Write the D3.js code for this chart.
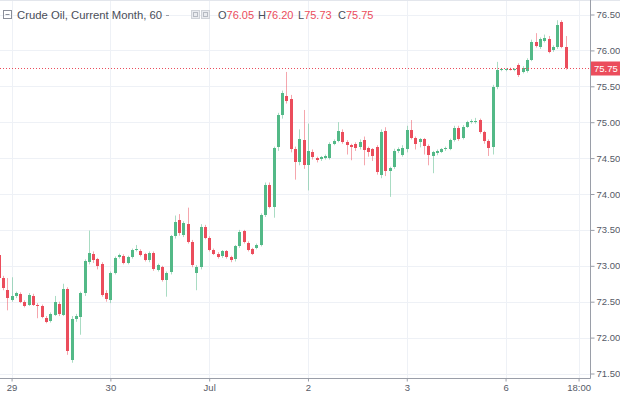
<!DOCTYPE html>
<html>
<head>
<meta charset="utf-8">
<script src="https://cdn.jsdelivr.net/npm/d3@7"></script>
<style>
  html, body { margin: 0; padding: 0; background: #fff; }
  svg { display: block; font-family: "Liberation Sans", Arial, sans-serif; }
</style>
</head>
<body>
<div id="chart"></div>
<script>
// hourly candles, crude oil current month
const opens = [
  73.15, 72.83, 72.66, 72.52, 72.58, 72.61, 72.49, 72.46, 72.58, 72.46,
  72.44, 72.27, 72.23, 72.32, 72.47, 72.32, 72.68, 71.69, 72.26, 72.29,
  72.62, 73.05, 73.17, 73.09, 73.02, 72.62, 72.52, 72.90, 73.12, 73.14,
  73.04, 73.12, 73.22, 73.21, 73.16, 73.08, 73.18, 72.94, 72.98, 72.80,
  72.91, 73.41, 73.64, 73.43, 73.58, 73.33, 72.90, 72.98, 73.54, 73.39,
  73.22, 73.17, 73.13, 73.20, 73.12, 73.09, 73.27, 73.48, 73.32, 73.23,
  73.25, 73.29, 73.71, 74.13, 73.82, 74.65, 75.10, 75.36, 75.33, 74.62,
  74.44, 74.75, 74.40, 74.58, 74.50, 74.49, 74.50, 74.50, 74.70, 74.74,
  74.87, 74.73, 74.68, 74.70, 74.65, 74.75, 74.64, 74.62, 74.65, 74.27,
  74.88, 74.32, 74.38, 74.60, 74.55, 74.62, 74.89, 74.78, 74.72, 74.76,
  74.67, 74.53, 74.57, 74.59, 74.62, 74.63, 74.75, 74.92, 74.78, 74.94,
  75.00, 75.00, 75.03, 74.86, 74.74, 74.65, 75.49, 75.73, 75.73, 75.74,
  75.73, 75.80, 75.70, 75.71, 75.87, 76.12, 76.05, 76.13, 76.16, 76.00,
  76.05, 76.39, 76.05
];
const highs = [
  73.20, 72.86, 72.83, 72.84, 72.64, 72.63, 72.52, 72.62, 72.61, 72.48,
  72.46, 72.30, 72.35, 72.58, 72.50, 72.75, 72.70, 72.30, 72.33, 72.64,
  73.09, 73.49, 73.20, 73.11, 73.05, 72.66, 72.92, 73.13, 73.17, 73.16,
  73.14, 73.24, 73.29, 73.23, 73.18, 73.20, 73.20, 73.03, 73.00, 72.92,
  73.43, 73.70, 73.72, 73.62, 73.81, 73.36, 73.01, 73.58, 73.57, 73.41,
  73.24, 73.19, 73.22, 73.22, 73.14, 73.29, 73.50, 73.50, 73.34, 73.25,
  73.31, 73.73, 74.16, 74.16, 74.66, 75.13, 75.44, 75.70, 75.38, 74.66,
  74.90, 75.17, 74.98, 74.62, 74.52, 74.53, 74.55, 74.72, 74.76, 75.00,
  74.90, 74.75, 74.70, 74.72, 74.76, 74.80, 74.66, 74.64, 74.68, 74.90,
  74.93, 74.38, 74.63, 74.65, 74.68, 74.95, 75.03, 74.80, 74.78, 74.78,
  74.69, 74.60, 74.62, 74.64, 74.66, 74.77, 74.95, 74.95, 74.96, 75.02,
  75.04, 75.06, 75.05, 74.88, 74.76, 75.52, 75.84, 75.75, 75.75, 75.76,
  75.75, 75.82, 75.78, 75.89, 76.15, 76.24, 76.18, 76.22, 76.20, 76.07,
  76.42, 76.42, 76.20
];
const lows = [
  72.80, 72.66, 72.38, 72.50, 72.55, 72.48, 72.42, 72.44, 72.44, 72.27,
  72.27, 72.20, 72.21, 72.30, 72.30, 72.30, 71.76, 71.65, 72.22, 72.04,
  72.58, 73.02, 73.04, 72.95, 72.57, 72.50, 72.48, 72.88, 73.10, 73.02,
  73.02, 73.10, 73.20, 73.13, 73.06, 73.05, 72.93, 72.92, 72.78, 72.57,
  72.88, 73.38, 73.42, 73.40, 73.31, 72.98, 72.66, 72.95, 73.37, 73.20,
  73.15, 73.10, 73.11, 73.10, 73.05, 73.06, 73.25, 73.31, 73.20, 73.15,
  73.23, 73.27, 73.68, 73.80, 73.67, 74.60, 75.05, 75.26, 74.58, 74.20,
  74.40, 74.35, 74.05, 74.48, 74.44, 74.46, 74.48, 74.48, 74.68, 74.72,
  74.70, 74.55, 74.47, 74.60, 74.62, 74.40, 74.52, 74.46, 74.27, 74.22,
  74.25, 73.96, 74.35, 74.57, 74.52, 74.58, 74.76, 74.62, 74.65, 74.55,
  74.40, 74.29, 74.54, 74.57, 74.60, 74.61, 74.73, 74.74, 74.76, 74.92,
  74.98, 74.98, 74.84, 74.70, 74.53, 74.55, 75.46, 75.71, 75.71, 75.72,
  75.71, 75.63, 75.68, 75.69, 75.85, 76.04, 76.02, 76.11, 75.96, 75.98,
  76.02, 76.03, 75.73
];
const closes = [
  72.83, 72.69, 72.55, 72.58, 72.62, 72.50, 72.44, 72.60, 72.46, 72.44,
  72.29, 72.22, 72.33, 72.50, 72.33, 72.68, 71.81, 72.26, 72.30, 72.62,
  73.07, 73.18, 73.08, 73.00, 72.59, 72.54, 72.90, 73.11, 73.15, 73.04,
  73.12, 73.22, 73.23, 73.15, 73.08, 73.18, 72.95, 73.01, 72.80, 72.90,
  73.41, 73.61, 73.45, 73.60, 73.33, 73.01, 72.99, 73.54, 73.39, 73.22,
  73.17, 73.12, 73.20, 73.12, 73.08, 73.27, 73.47, 73.33, 73.22, 73.17,
  73.29, 73.71, 74.13, 73.82, 74.64, 75.10, 75.41, 75.29, 74.62, 74.44,
  74.76, 74.40, 74.60, 74.51, 74.47, 74.51, 74.53, 74.70, 74.74, 74.88,
  74.73, 74.68, 74.65, 74.64, 74.72, 74.61, 74.58, 74.53, 74.30, 74.87,
  74.32, 74.36, 74.60, 74.63, 74.64, 74.89, 74.78, 74.70, 74.76, 74.67,
  74.54, 74.58, 74.60, 74.63, 74.64, 74.75, 74.92, 74.76, 74.93, 75.00,
  75.01, 75.02, 74.86, 74.74, 74.64, 75.49, 75.73, 75.74, 75.74, 75.73,
  75.74, 75.66, 75.76, 75.87, 76.12, 76.06, 76.16, 76.17, 75.98, 76.05,
  76.35, 76.05, 75.75
];

const priceTicks = [71.5, 72, 72.5, 73, 73.5, 74, 74.5, 75, 75.5, 76, 76.5];
const timeTickBars = [3, 26, 49, 72, 95, 118, 135];
const timeTickLabels = ["29", "30", "Jul", "2", "3", "6", "18:00"];

const title = "Crude Oil, Current Month, 60";
const legendKeys = ["O", "H", "L", "C"];
const legendValues = ["76.05", "76.20", "75.73", "75.75"];
const lastPrice = 75.75;

(function () {
  const width = 620;
  const height = 394;
  const plotRight = 590;
  const plotBottom = 378;
  const up = "#53b987";
  const down = "#eb4d5c";

  const candles = opens.map((o, i) => ({
    i: i, open: o, high: highs[i], low: lows[i], close: closes[i]
  }));

  const svg = d3
    .select("#chart")
    .append("svg")
    .attr("width", width)
    .attr("height", height);

  // scales
  const x = d3.scaleLinear().domain([0, 132]).range([-1.3, 565.7]);
  const y = d3.scaleLinear().domain([71.5, 76.5]).range([373.5, 14.5]);

  // grid
  const grid = svg.append("g").attr("stroke", "#eef1f6").attr("stroke-width", 1);
  grid.selectAll(".hg")
    .data(priceTicks)
    .enter()
    .append("line")
    .attr("x1", 0)
    .attr("x2", plotRight)
    .attr("y1", (d) => Math.round(y(d)) + 0.5)
    .attr("y2", (d) => Math.round(y(d)) + 0.5);
  grid.selectAll(".vg")
    .data(timeTickBars)
    .enter()
    .append("line")
    .attr("x1", (d) => Math.round(x(d)) + 0.5)
    .attr("x2", (d) => Math.round(x(d)) + 0.5)
    .attr("y1", 0)
    .attr("y2", plotBottom);

  svg.append("line")
    .attr("x1", 0).attr("x2", width)
    .attr("y1", 0.5).attr("y2", 0.5)
    .attr("stroke", "#e3e6ec");

  // candles
  const cg = svg.append("g");
  cg.selectAll(".wick")
    .data(candles)
    .enter()
    .append("line")
    .attr("x1", (d) => Math.round(x(d.i)) + 0.5)
    .attr("x2", (d) => Math.round(x(d.i)) + 0.5)
    .attr("y1", (d) => y(d.high))
    .attr("y2", (d) => y(d.low))
    .attr("stroke", (d) => (d.close >= d.open ? up : down))
    .attr("stroke-opacity", 0.5)
    .attr("stroke-width", 1);

  cg.selectAll(".body")
    .data(candles)
    .enter()
    .append("rect")
    .attr("x", (d) => Math.round(x(d.i)) - 1)
    .attr("width", 3)
    .attr("y", (d) => Math.round(y(Math.max(d.open, d.close))))
    .attr("height", (d) =>
      Math.max(1, Math.round(y(Math.min(d.open, d.close))) - Math.round(y(Math.max(d.open, d.close))))
    )
    .attr("fill", (d) => (d.close >= d.open ? up : down))
    .attr("shape-rendering", "crispEdges");

  // last price line
  const py = Math.round(y(lastPrice)) + 0.5;
  svg.append("line")
    .attr("x1", 0).attr("x2", plotRight)
    .attr("y1", py).attr("y2", py)
    .attr("stroke", down)
    .attr("stroke-width", 1)
    .attr("stroke-dasharray", "1,2");

  // axes
  const yAxis = svg.append("g")
    .attr("transform", `translate(${plotRight + 0.5},0)`)
    .call(d3.axisRight(y).tickValues(priceTicks).tickFormat(d3.format(".2f")).tickSize(4).tickPadding(2))
    .call((g) => g.select(".domain").remove())
    .call((g) => g.selectAll(".tick line").attr("stroke", "#9a9ea8"))
    .call((g) => g.selectAll(".tick text").attr("fill", "#555a66").attr("font-size", "9.5px").attr("font-family", null));

  const xAxis = svg.append("g")
    .attr("transform", `translate(0,${plotBottom + 0.5})`)
    .call(d3.axisBottom(x).tickValues(timeTickBars).tickFormat((d, i) => timeTickLabels[i]).tickSize(3).tickPadding(3))
    .call((g) => g.select(".domain").remove())
    .call((g) => g.selectAll(".tick line").attr("stroke", "#9a9ea8"))
    .call((g) => g.selectAll(".tick text").attr("fill", "#555a66").attr("font-size", "9.5px").attr("font-family", null));

  svg.append("line")
    .attr("x1", plotRight + 0.5).attr("x2", plotRight + 0.5)
    .attr("y1", 0).attr("y2", plotBottom + 0.5)
    .attr("stroke", "#9a9ea8");
  svg.append("line")
    .attr("x1", 0).attr("x2", plotRight + 0.5)
    .attr("y1", plotBottom + 0.5).attr("y2", plotBottom + 0.5)
    .attr("stroke", "#9a9ea8");

  // price label
  svg.append("rect")
    .attr("x", plotRight + 1)
    .attr("y", py - 7)
    .attr("width", width - plotRight - 1)
    .attr("height", 14)
    .attr("fill", down);
  svg.append("text")
    .attr("x", plotRight + 4)
    .attr("y", py + 3.5)
    .attr("fill", "#fff")
    .attr("font-size", "9.5px")
    .text(d3.format(".2f")(lastPrice));

  // header
  const header = svg.append("g");
  header.append("rect")
    .attr("x", 3.5).attr("y", 10.5).attr("width", 8).attr("height", 8)
    .attr("fill", "none").attr("stroke", "#8a8e99");
  header.append("line")
    .attr("x1", 5.5).attr("x2", 9.5).attr("y1", 14.5).attr("y2", 14.5)
    .attr("stroke", "#8a8e99");
  header.append("text")
    .attr("x", 17).attr("y", 19)
    .attr("fill", "#4a4e59")
    .attr("font-size", "11.3px")
    .text(title);
  header.append("line")
    .attr("x1", 166).attr("x2", 169).attr("y1", 15.5).attr("y2", 15.5)
    .attr("stroke", "#9a9ea8");
  [191, 201].forEach((bx) => {
    header.append("rect")
      .attr("x", bx + 0.5).attr("y", 10.5).attr("width", 8).attr("height", 8)
      .attr("fill", "#e9ebef").attr("stroke", "#cfd2d8");
    header.append("rect")
      .attr("x", bx + 2.5).attr("y", 12.5).attr("width", 4).attr("height", 4)
      .attr("fill", "none").attr("stroke", "#b6bac2");
  });
  legendKeys.forEach((k, i) => {
    const t = header.append("text")
      .attr("x", 218 + i * 40).attr("y", 19)
      .attr("font-size", "11px");
    t.append("tspan").attr("fill", "#4a4e59").text(k);
    t.append("tspan").attr("fill", down).text(legendValues[i]);
  });
})();
</script>
</body>
</html>
